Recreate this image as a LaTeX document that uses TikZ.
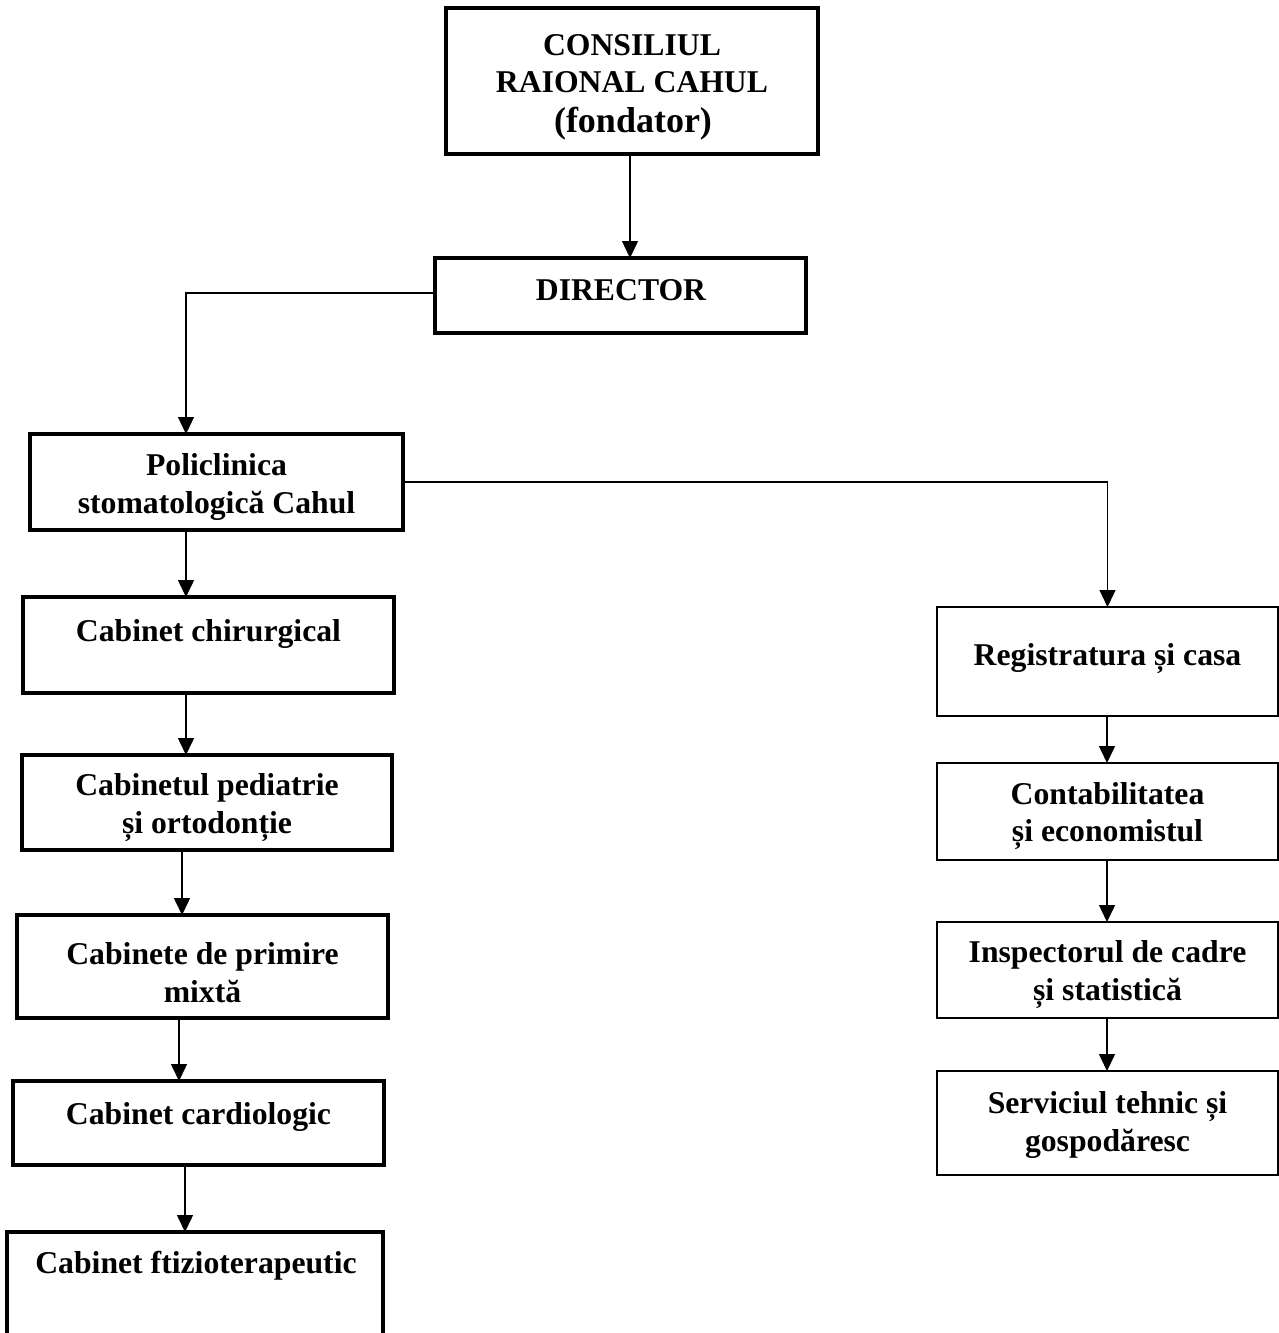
\documentclass[tikz,border=0pt]{standalone}
\usepackage{fontspec}
\setmainfont{Liberation Serif}
\usetikzlibrary{arrows.meta}
\begin{document}
\begin{tikzpicture}[x=1pt,y=-1pt,
  thickbox/.style={draw=black,line width=3.2pt,inner sep=0pt,outer sep=0pt,anchor=north west},
  thinbox/.style={draw=black,line width=2.2pt,inner sep=0pt,outer sep=0pt,anchor=north west},
  txt/.style={anchor=base,inner sep=0pt,font=\fontsize{31.7pt}{37pt}\selectfont\bfseries},
  bigtxt/.style={anchor=base,inner sep=0pt,font=\fontsize{36pt}{41pt}\selectfont\bfseries},
  arr/.style={line width=1.5pt,-{Triangle[width=16pt,length=17pt]}},
  con/.style={line width=1.3pt}]
\useasboundingbox (0,0) rectangle (1279,1333);
% boxes
\node[thickbox,minimum width=372pt,minimum height=146pt] (top) at (446,8) {};
\node[thickbox,minimum width=371pt,minimum height=75pt] (dir) at (435,258) {};
\node[thickbox,minimum width=373pt,minimum height=96pt] (poli) at (30,434) {};
\node[thickbox,minimum width=371pt,minimum height=96pt] (chir) at (23,597) {};
\node[thickbox,minimum width=370pt,minimum height=95pt] (ped) at (22,755) {};
\node[thickbox,minimum width=371pt,minimum height=103pt] (prim) at (17,915) {};
\node[thickbox,minimum width=371pt,minimum height=84pt] (card) at (13,1081) {};
\node[thickbox,minimum width=376pt,minimum height=170pt] (ftiz) at (7,1232) {};
\node[thinbox,minimum width=341pt,minimum height=109pt] (reg) at (937,607) {};
\node[thinbox,minimum width=341pt,minimum height=97pt] (cont) at (937,763) {};
\node[thinbox,minimum width=341pt,minimum height=96pt] (insp) at (937,922) {};
\node[thinbox,minimum width=341pt,minimum height=104pt] (serv) at (937,1071) {};
% texts
\node[txt] (t1) at (632,55) {CONSILIUL};
\node[txt] (t2) at (632,92) {RAIONAL CAHUL};
\node[bigtxt] (t3) at (633,132) {(fondator)};
\node[txt] (t4) at (621,300) {DIRECTOR};
\node[txt] (t5) at (216.5,475) {Policlinica};
\node[txt] (t6) at (216.5,513) {stomatologică Cahul};
\node[txt] (t7) at (208.5,641) {Cabinet chirurgical};
\node[txt] (t8) at (207,795) {Cabinetul pediatrie};
\node[txt] (t9) at (207,833) {și ortodonție};
\node[txt] (t10) at (202.5,964) {Cabinete de primire};
\node[txt] (t11) at (202.5,1002) {mixtă};
\node[txt] (t12) at (198.5,1124) {Cabinet cardiologic};
\node[txt] (t13) at (196,1273) {Cabinet ftizioterapeutic};
\node[txt] (t14) at (1107.5,665) {Registratura și casa};
\node[txt] (t15) at (1107.5,804) {Contabilitatea};
\node[txt] (t16) at (1107.5,841) {și economistul};
\node[txt] (t17) at (1107.5,962) {Inspectorul de cadre};
\node[txt] (t18) at (1107.5,1000) {și statistică};
\node[txt] (t19) at (1107.5,1113) {Serviciul tehnic și};
\node[txt] (t20) at (1107.5,1151) {gospodăresc};
% connectors
\draw[arr] ([xshift=-2pt]top.south) -- ([xshift=9.5pt]dir.north);
\draw[arr,line width=1.3pt] ([yshift=2.5pt]dir.west) -| ([xshift=-30.5pt]poli.north);
\draw[arr,line width=1.3pt] (poli.east) -| (reg.north);
\draw[arr] ([xshift=-30.5pt]poli.south) -- ([xshift=-22.5pt]chir.north);
\draw[arr] ([xshift=-22.5pt]chir.south) -- ([xshift=-21pt]ped.north);
\draw[arr] ([xshift=-25pt]ped.south) -- ([xshift=-20.5pt]prim.north);
\draw[arr] ([xshift=-23.5pt]prim.south) -- ([xshift=-19.5pt]card.north);
\draw[arr] ([xshift=-13.5pt]card.south) -- ([xshift=-10pt]ftiz.north);
\draw[arr] ([xshift=-0.5pt]reg.south) -- ([xshift=-0.5pt]cont.north);
\draw[arr] ([xshift=-0.5pt]cont.south) -- ([xshift=-0.5pt]insp.north);
\draw[arr] ([xshift=-0.5pt]insp.south) -- ([xshift=-0.5pt]serv.north);
\end{tikzpicture}
\end{document}
